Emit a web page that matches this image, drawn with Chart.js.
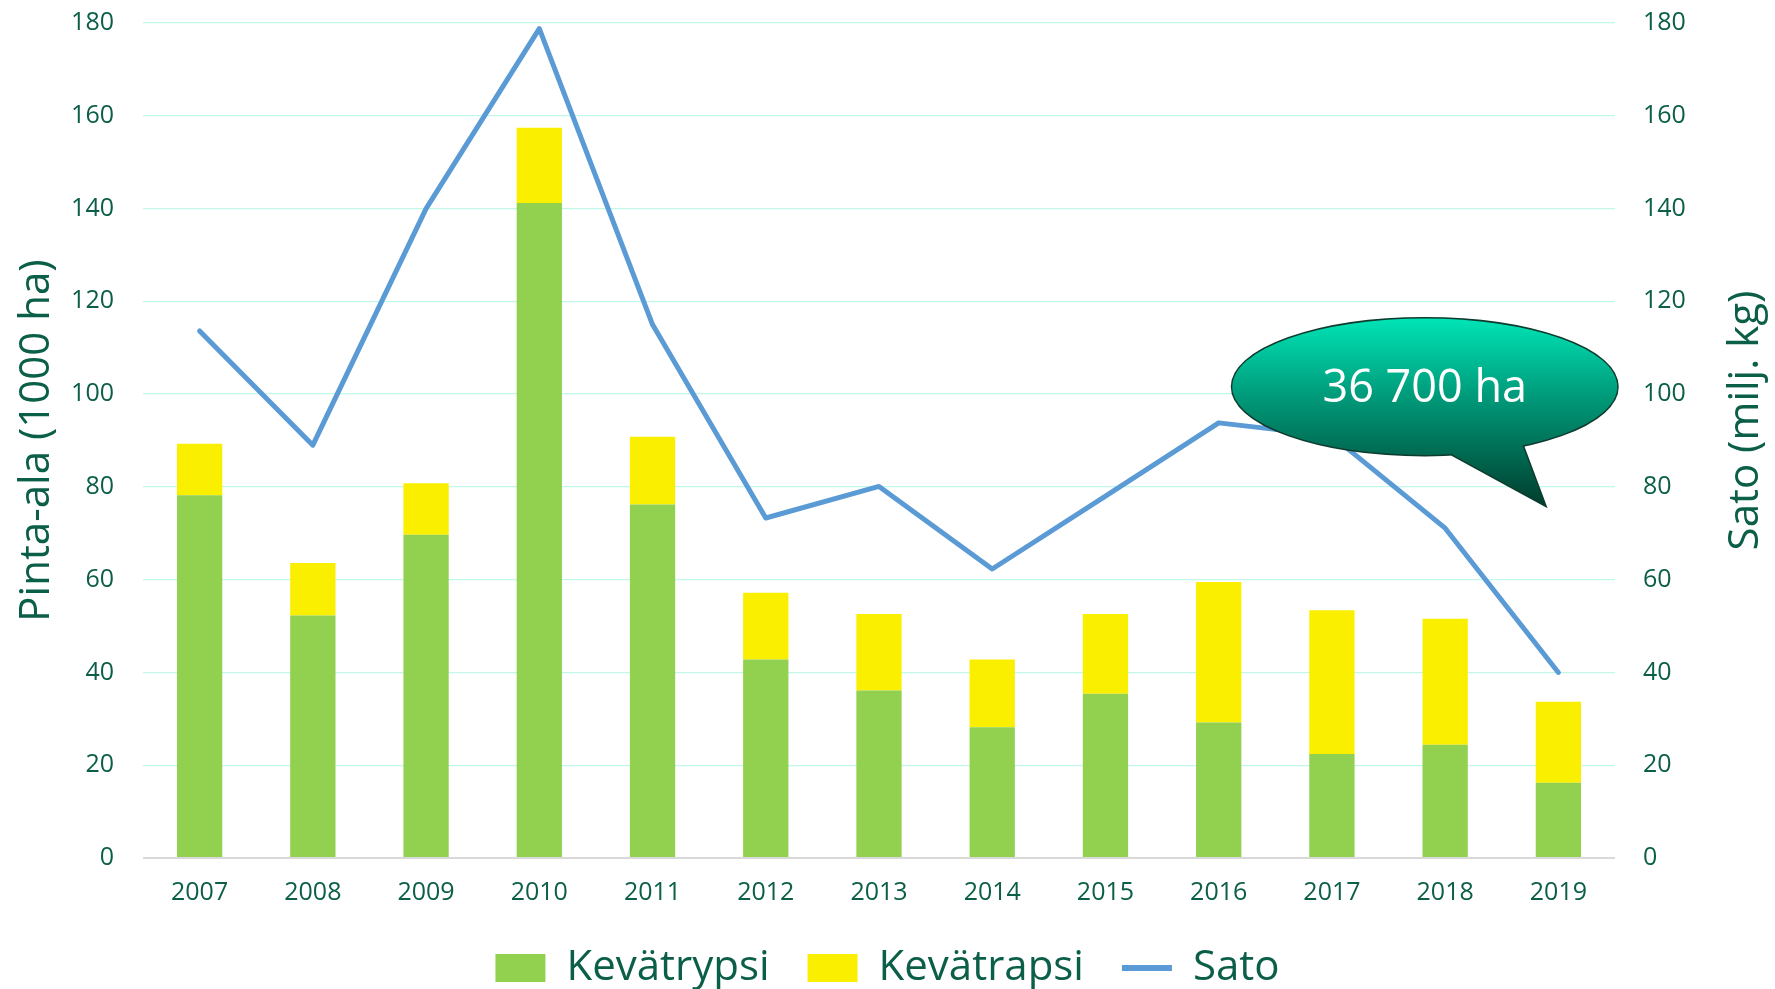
<!DOCTYPE html>
<html>
<head>
<meta charset="utf-8">
<script src="https://cdn.jsdelivr.net/npm/chart.js@4.4.1/dist/chart.umd.min.js"></script>
<style>
  html, body { margin: 0; background: #fff; }
  #wrap { width: 1775px; height: 989px; position: relative; }
</style>
</head>
<body>
<div id="wrap"><canvas id="chart"></canvas></div>
<script>
const years = ["2007", "2008", "2009", "2010", "2011", "2012", "2013",
               "2014", "2015", "2016", "2017", "2018", "2019"];
// Pinta-ala, 1000 ha
const kevatrypsi = [78.2, 52.3, 69.7, 141.2, 76.2, 42.8, 36.1, 28.2, 35.4, 29.2, 22.4, 24.4, 16.2];
const kevatrapsi = [11.1, 11.3, 11.1, 16.2, 14.6, 14.4, 16.5, 14.6, 17.2, 30.3, 31.0, 27.2, 17.5];
// Sato, milj. kg
const sato = [113.6, 89, 140, 178.8, 115, 73.3, 80.1, 62.3, 78, 93.8, 91, 71.1, 40];

const TEXT = "#0b5e47";
const FONT = '"Open Sans", "Noto Sans", sans-serif';
Chart.defaults.font.family = FONT;

// speech bubble, placed in data units (category index, right-axis value)
const bubble = {
  text: "36 700 ha",
  cx: 10.82, cy: 101.6, rxCat: 1.7, ryVal: 14.7,
  base1: [11.07, 86.9], tip: [11.88, 76.1], base2: [11.68, 89.1],
};

const bubblePlugin = {
  id: "bubble",
  afterDatasetsDraw(chart) {
    const { ctx } = chart;
    const x = chart.scales.x, y = chart.scales.y1;
    const cx = x.getPixelForValue(bubble.cx);
    const cy = y.getPixelForValue(bubble.cy);
    const rx = (x.getPixelForValue(1) - x.getPixelForValue(0)) * bubble.rxCat;
    const ry = y.getPixelForValue(0) - y.getPixelForValue(bubble.ryVal);
    const p = (pt) => [x.getPixelForValue(pt[0]), y.getPixelForValue(pt[1])];
    const b1 = p(bubble.base1), tip = p(bubble.tip), b2 = p(bubble.base2);

    const grad = ctx.createLinearGradient(0, cy - ry, 0, tip[1]);
    grad.addColorStop(0, "#00e4b6");
    grad.addColorStop(0.4, "#009d7c");
    grad.addColorStop(0.7, "#006e55");
    grad.addColorStop(1, "#003e2e");

    const ellipse = () => {
      ctx.beginPath();
      ctx.ellipse(cx, cy, rx, ry, 0, 0, Math.PI * 2);
    };
    const tail = () => {
      ctx.beginPath();
      ctx.moveTo(b1[0], b1[1]);
      ctx.lineTo(tip[0], tip[1]);
      ctx.lineTo(b2[0], b2[1]);
      ctx.lineTo(cx + 40, cy);
      ctx.closePath();
    };

    ctx.save();
    ctx.strokeStyle = "#0d3b2e";
    ctx.lineWidth = 3;
    ctx.lineJoin = "miter";
    ellipse(); ctx.stroke();
    tail(); ctx.stroke();
    ctx.fillStyle = grad;
    ellipse(); ctx.fill();
    tail(); ctx.fill();

    ctx.fillStyle = "#ffffff";
    ctx.font = "45px " + FONT;
    ctx.textAlign = "center";
    ctx.textBaseline = "middle";
    ctx.fillText(bubble.text, cx, cy + 2);
    ctx.restore();
  },
};

// right axis title reads bottom-to-top like the left one
const rightTitlePlugin = {
  id: "rightTitle",
  afterDraw(chart) {
    const { ctx, chartArea } = chart;
    const s = chart.scales.y1;
    ctx.save();
    ctx.translate(s.right - 29, (chartArea.top + chartArea.bottom) / 2 - 20);
    ctx.rotate(-Math.PI / 2);
    ctx.fillStyle = TEXT;
    ctx.font = "42px " + FONT;
    ctx.textAlign = "center";
    ctx.textBaseline = "middle";
    ctx.fillText("Sato (milj. kg)", 0, 0);
    ctx.restore();
  },
};

// tick padding would otherwise push the plot area down
function fixY(width) {
  return (s) => {
    s.width = width;
    s.paddingTop = 0;
    s.paddingBottom = 0;
  };
}

new Chart(document.getElementById("chart"), {
  type: "bar",
  data: {
    labels: years,
    datasets: [
      {
        label: "Kevätrypsi",
        data: kevatrypsi,
        backgroundColor: "#92d050",
        borderWidth: 0,
        stack: "ala",
        yAxisID: "y",
        order: 1,
      },
      {
        label: "Kevätrapsi",
        data: kevatrapsi,
        backgroundColor: "#fbef00",
        borderWidth: 0,
        stack: "ala",
        yAxisID: "y",
        order: 1,
      },
      {
        type: "line",
        label: "Sato",
        data: sato,
        borderColor: "#5b9bd5",
        backgroundColor: "#5b9bd5",
        borderWidth: 5,
        borderCapStyle: "round",
        borderJoinStyle: "round",
        pointRadius: 0,
        tension: 0,
        fill: false,
        yAxisID: "y1",
        order: 0,
      },
    ],
  },
  options: {
    responsive: true,
    maintainAspectRatio: false,
    animation: false,
    layout: { padding: { top: 23, left: 0, right: 0, bottom: 0 } },
    datasets: {
      bar: { categoryPercentage: 1, barPercentage: 0.4 },
    },
    plugins: {
      tooltip: { enabled: false },
      legend: {
        position: "bottom",
        maxHeight: 80,
        labels: {
          color: TEXT,
          font: { size: 42 },
          usePointStyle: true,
          pointStyleWidth: 50,
          boxHeight: 28,
          padding: 38,
          sort: (a, b) => a.datasetIndex - b.datasetIndex,
          generateLabels(chart) {
            const items = Chart.defaults.plugins.legend.labels.generateLabels(chart);
            items.forEach((it) => {
              const isLine = it.datasetIndex === 2;
              it.pointStyle = isLine ? "line" : "rect";
              if (isLine) { it.strokeStyle = "#5b9bd5"; it.lineWidth = 6; }
              else { it.lineWidth = 0; }
            });
            return items;
          },
        },
      },
    },
    scales: {
      x: {
        stacked: true,
        grid: { display: false, drawTicks: false },
        border: { display: false },
        ticks: { color: TEXT, font: { size: 25 }, padding: 20 },
        afterFit(s) { s.height = 51; },
      },
      y: {
        position: "left",
        stacked: true,
        min: 0,
        max: 180,
        ticks: { stepSize: 20, color: TEXT, font: { size: 25 }, padding: 29 },
        grid: {
          drawTicks: false,
          color: (c) => (c.tick && c.tick.value === 0 ? "#d9d9d9" : "#c2f8ea"),
          lineWidth: (c) => (c.tick && c.tick.value === 0 ? 2 : 1.3),
        },
        border: { display: false },
        title: {
          display: true,
          text: "Pinta-ala (1000 ha)",
          color: TEXT,
          font: { size: 42 },
          padding: { top: 12, bottom: 0 },
        },
        afterFit: fixY(143),
      },
      y1: {
        position: "right",
        min: 0,
        max: 180,
        ticks: { stepSize: 20, color: TEXT, font: { size: 25 }, padding: 28 },
        grid: { display: false, drawTicks: false },
        border: { display: false },
        afterFit: fixY(160),
      },
    },
  },
  plugins: [bubblePlugin, rightTitlePlugin],
});
</script>
</body>
</html>
